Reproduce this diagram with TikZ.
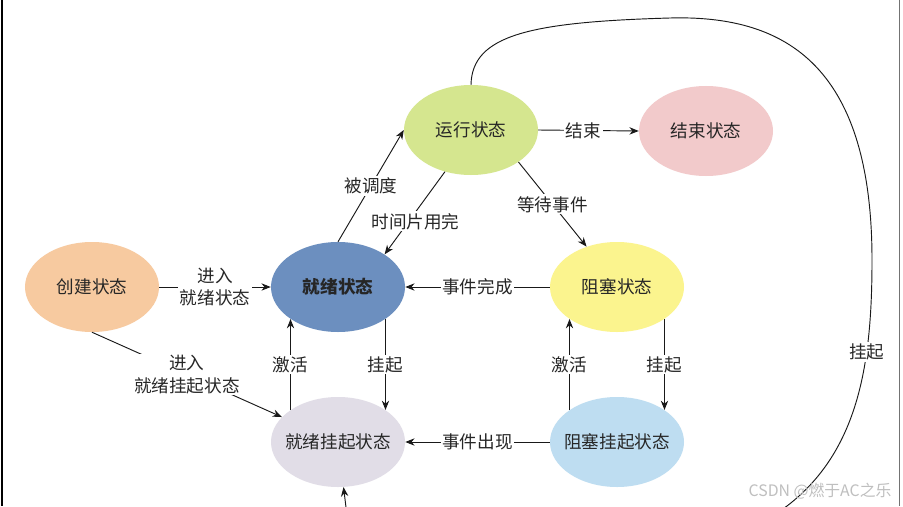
\documentclass[tikz,border=0pt]{standalone}
\usepackage{fontspec}
\setmainfont{Noto Sans CJK SC}
\usetikzlibrary{shapes.geometric,arrows.meta}
\definecolor{runcol}{HTML}{D5E68F}
\definecolor{endcol}{HTML}{F2CACB}
\definecolor{readycol}{HTML}{6C8FBF}
\definecolor{createcol}{HTML}{F7CAA0}
\definecolor{blockcol}{HTML}{FBF48E}
\definecolor{rsuspcol}{HTML}{E1DDE7}
\definecolor{bsuspcol}{HTML}{BEDDF1}
\newcommand{\stxt}[1]{\makebox[0pt]{#1}}
\tikzset{state/.style = {ellipse, minimum width=4.02cm, minimum height=2.7cm, inner sep=0pt},
  trans/.style = {-{Stealth[length=2.8mm,width=2.2mm]}, line width=0.8pt, draw=black!90},
  lbl/.style = {fill=white, inner sep=1.5pt, align=center}
  }

\begin{document}
\begin{tikzpicture}[x=0.03cm,y=-0.03cm,font=\fontsize{15}{19}\selectfont,text=black!85]
        \useasboundingbox (0,0) rectangle (903,506);
        \fill[white] (0,0) rectangle (903,506);
        \clip (0,0) rectangle (903,506);
        \draw[line width=1.2pt] (2,0) -- (2,506);
        \draw[black!55,line width=0.6pt] (899,0) -- (899,506);
        \path (471,130) node[state,fill=runcol] (run) {\stxt{运行状态}}
        (706,131) node[state,fill=endcol] (end) {\stxt{结束状态}}
        (338,287) node[state,fill=readycol] (ready) {\stxt{\bfseries 就绪状态}}
        (92,287) node[state,fill=createcol] (create) {\stxt{创建状态}}
        (617,287) node[state,fill=blockcol] (block) {\stxt{阻塞状态}}
        (338,442) node[state,fill=rsuspcol] (rsusp) {\stxt{就绪挂起状态}}
        (617,442) node[state,fill=bsuspcol] (bsusp) {\stxt{阻塞挂起状态}};
        \path
            (ready.north) edge[trans] node[lbl] {被调度} (run.west)
            (run.238) edge[trans] node[lbl,pos=0.6,xshift=2mm] {时间片用完} (ready.35)
            (run.east) edge[trans] node[lbl,pos=0.45] {结束} (end.west)
            (run.-34) edge[trans] node[lbl] {等待事件} (block.127)
            (block.west) edge[trans] node[lbl] {事件完成} (ready.east)
            (create.east) edge[trans] node[lbl] {进入\\就绪状态} (ready.west)
            (create.south) edge[trans] node[lbl] {进入\\就绪挂起状态} (rsusp.156)
            (rsusp.146) edge[trans] node[lbl] {激活} (ready.214)
            (ready.-34) edge[trans] node[lbl] {挂起} (rsusp.34)
            (bsusp.146) edge[trans] node[lbl] {激活} (block.214)
            (block.-34) edge[trans] node[lbl] {挂起} (bsusp.34)
            (bsusp.west) edge[trans] node[lbl] {事件出现} (rsusp.east);
        \draw[trans] (run.north) .. controls (472,35) and (530,22) .. (670,18)
            .. controls (780,15) and (872,60) .. (872,260)
            .. controls (872,360) and (860,450) .. (787,506) node[lbl,pos=0.32] {挂起}
            .. controls (740,542) and (360,590) .. (350,540) -- (rsusp);
        \node[text=black!25,font=\fontsize{13.5}{15}\selectfont] (mark) at (820,491) {CSDN @燃于AC之乐};
\end{tikzpicture}
\end{document}
